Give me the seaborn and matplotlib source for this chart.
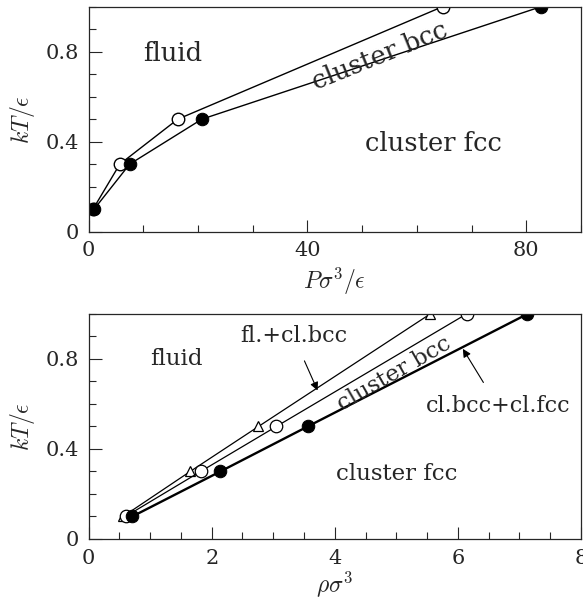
import seaborn as sns
import matplotlib.pyplot as plt
from matplotlib.ticker import MultipleLocator

# phase boundaries, pressure plane
T_pts = [0.1, 0.3, 0.5, 1.0]
P_fluid_bcc = [0.8, 5.7, 16.3, 64.7]
P_bcc_fcc = [1.0, 7.5, 20.7, 82.7]

# phase boundaries, density plane
rho_fluid = [0.56, 1.65, 2.76, 5.55]
rho_bcc_lo = [0.60, 1.82, 3.05, 6.14]
rho_bcc_fcc = [0.71, 2.14, 3.56, 7.13]

sns.set_style("ticks")
plt.rcParams['font.family'] = ['DejaVu Serif']
plt.rcParams['mathtext.fontset'] = 'cm'

fig = plt.figure(figsize=(5.83, 6.01), dpi=100)
ax1 = fig.add_axes([0.152, 0.6145, 0.8446, 0.3744])
ax2 = fig.add_axes([0.152, 0.1032, 0.8446, 0.3744])

# 上图
sns.lineplot(x=P_fluid_bcc, y=T_pts, ax=ax1, color="black", lw=1.0, sort=False,
             estimator=None, marker="o", markersize=9, markerfacecolor="white",
             markeredgecolor="black", markeredgewidth=1.0)
sns.lineplot(x=P_bcc_fcc, y=T_pts, ax=ax1, color="black", lw=1.0, sort=False,
             estimator=None, marker="o", markersize=9, markerfacecolor="black",
             markeredgecolor="black")
ax1.set_xlim(0, 90)
ax1.set_ylim(0, 1.0)
ax1.xaxis.set_major_locator(MultipleLocator(40))
ax1.xaxis.set_minor_locator(MultipleLocator(10))
ax1.set_xlabel(r"$P\sigma^3/\epsilon$", fontsize=17)
ax1.text(15.4, 0.79, "fluid", fontsize=18.5, ha="center", va="center")
ax1.text(63, 0.39, "cluster fcc", fontsize=18.5, ha="center", va="center")
ax1.text(53.2, 0.78, "cluster bcc", fontsize=18.5, ha="center", va="center",
         rotation=22, rotation_mode="anchor")

# 下图
sns.lineplot(x=rho_fluid, y=T_pts, ax=ax2, color="black", lw=0.9, sort=False,
             estimator=None, marker="^", markersize=7, markerfacecolor="white",
             markeredgecolor="black", markeredgewidth=0.9)
sns.lineplot(x=rho_bcc_lo, y=T_pts, ax=ax2, color="black", lw=0.9, sort=False,
             estimator=None, marker="o", markersize=9, markerfacecolor="white",
             markeredgecolor="black", markeredgewidth=0.9)
sns.lineplot(x=rho_bcc_fcc, y=T_pts, ax=ax2, color="black", lw=1.7, sort=False,
             estimator=None, marker="o", markersize=9, markerfacecolor="black",
             markeredgecolor="black")
ax2.set_xlim(0, 8)
ax2.set_ylim(0, 1.0)
ax2.xaxis.set_major_locator(MultipleLocator(2))
ax2.xaxis.set_minor_locator(MultipleLocator(0.5))
ax2.set_xlabel(r"$\rho\sigma^3$", fontsize=17, labelpad=1)
ax2.text(1.43, 0.80, "fluid", fontsize=16.5, ha="center", va="center")
ax2.text(5.01, 0.29, "cluster fcc", fontsize=16.5, ha="center", va="center")
ax2.text(4.97, 0.735, "cluster bcc", fontsize=16.5, ha="center", va="center",
         rotation=30, rotation_mode="anchor")
ax2.annotate("fl.+cl.bcc", xy=(3.72, 0.66), xytext=(3.33, 0.90), fontsize=16,
             ha="center", va="center",
             arrowprops=dict(arrowstyle="-|>", color="black", lw=0.8,
                             shrinkA=8, shrinkB=0, mutation_scale=12))
ax2.annotate("cl.bcc+cl.fcc", xy=(6.08, 0.845), xytext=(6.65, 0.59), fontsize=16,
             ha="center", va="center",
             arrowprops=dict(arrowstyle="-|>", color="black", lw=0.8,
                             shrinkA=8, shrinkB=0, mutation_scale=12))

for ax in (ax1, ax2):
    ax.yaxis.set_major_locator(MultipleLocator(0.4))
    ax.yaxis.set_minor_locator(MultipleLocator(0.1))
    ax.yaxis.set_major_formatter(plt.FuncFormatter(lambda v, p: "0" if v == 0 else f"{v:.1f}"))
    ax.tick_params(which="major", direction="in", length=9, width=0.8, labelsize=15, pad=7)
    ax.tick_params(which="minor", direction="in", length=5, width=0.8)
    ax.set_ylabel(r"$kT/\epsilon$", fontsize=17, labelpad=6)
    for s in ax.spines.values():
        s.set_linewidth(0.9)

plt.savefig("out.png", dpi=100)
